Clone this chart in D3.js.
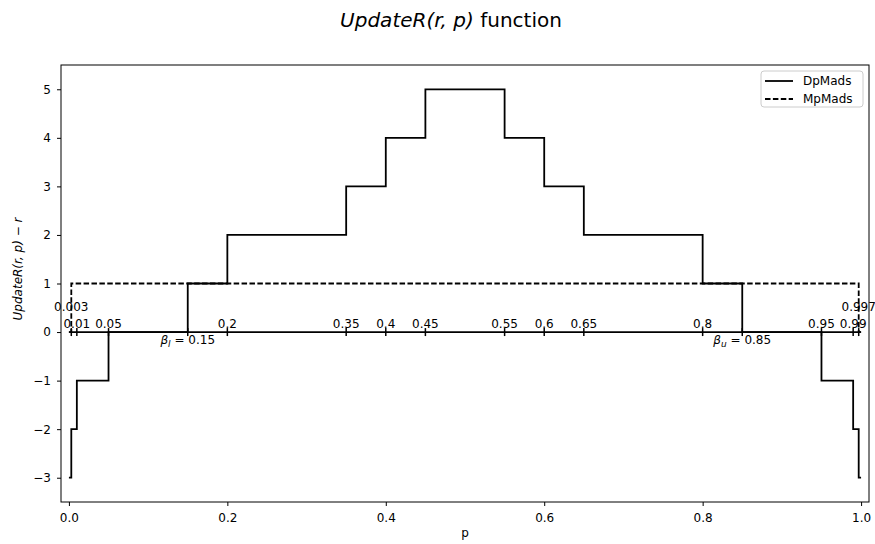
<!DOCTYPE html>
<html>
<head>
<meta charset="utf-8">
<script src="https://cdn.jsdelivr.net/npm/d3@7"></script>
<style>
  body { margin: 0; background: #fff; }
  text { font-family: "DejaVu Sans", sans-serif; }
</style>
</head>
<body>
<svg width="875" height="544"></svg>
<script>
// DpMads step function: value on each interval [dpBreaks[i], dpBreaks[i+1])
var dpBreaks = [0, 0.003, 0.01, 0.05, 0.15, 0.2, 0.35, 0.4, 0.45, 0.55, 0.6, 0.65, 0.8, 0.85, 0.95, 0.99, 0.997, 1];
var dpValues = [-3, -2, -1, 0, 1, 2, 3, 4, 5, 4, 3, 2, 1, 0, -1, -2, -3];

// MpMads step function
var mpBreaks = [0, 0.003, 0.997, 1];
var mpValues = [0, 1, 0];

// thresholds marked on the p number line (at y = 0)
var markP = [0.003, 0.01, 0.05, 0.15, 0.2, 0.35, 0.4, 0.45, 0.55, 0.6, 0.65, 0.8, 0.85, 0.95, 0.99, 0.997];
var markLabels = ['0.003', '0.01', '0.05', 'l', '0.2', '0.35', '0.4', '0.45', '0.55', '0.6', '0.65', '0.8', 'u', '0.95', '0.99', '0.997'];

var xTicks = [0, 0.2, 0.4, 0.6, 0.8, 1.0];
var yTicks = [-3, -2, -1, 0, 1, 2, 3, 4, 5];
var seriesNames = ['DpMads', 'MpMads'];

var margin = {left: 61, right: 6, top: 65, bottom: 42};
var width = 875, height = 544;

var svg = d3.select('svg');

var x = d3.scaleLinear()
    .domain([-0.01, 1.01])
    .range([margin.left, width - margin.right]);

var y = d3.scaleLinear()
    .domain([-3.5, 5.5])
    .range([height - margin.bottom, margin.top]);

function stepPoints(breaks, values) {
  var pts = [];
  for (var i = 0; i < values.length; i++) {
    pts.push([breaks[i], values[i]]);
    pts.push([breaks[i + 1], values[i]]);
  }
  return pts;
}

var line = d3.line()
    .x(function(d) { return x(d[0]); })
    .y(function(d) { return y(d[1]); });

// axes
var xAxis = svg.append('g')
    .attr('transform', 'translate(0,' + (height - margin.bottom) + ')')
    .call(d3.axisBottom(x).tickValues(xTicks).tickFormat(d3.format('.1f')).tickSize(4).tickPadding(7));
var yAxis = svg.append('g')
    .attr('transform', 'translate(' + margin.left + ',0)')
    .call(d3.axisLeft(y).tickValues(yTicks).tickSize(4).tickPadding(6));

[xAxis, yAxis].forEach(function(a) {
  a.select('.domain').remove();
  a.selectAll('text').attr('font-size', 12).attr('fill', '#000')
    .style('font-family', '"DejaVu Sans", sans-serif');
  a.selectAll('line').attr('stroke', '#000').attr('stroke-width', 1);
});

// number line at y = 0
svg.append('path')
    .attr('d', line([[0, 0], [1, 0]]))
    .attr('fill', 'none')
    .attr('stroke', '#000')
    .attr('stroke-width', 1.8);

svg.append('g').selectAll('line')
    .data(markP)
  .enter().append('line')
    .attr('x1', function(d) { return x(d); })
    .attr('x2', function(d) { return x(d); })
    .attr('y1', y(0) - 4)
    .attr('y2', y(0) + 4)
    .attr('stroke', '#000')
    .attr('stroke-width', 1.5);

// series
svg.append('path')
    .attr('d', line(stepPoints(mpBreaks, mpValues)))
    .attr('fill', 'none')
    .attr('stroke', '#000')
    .attr('stroke-width', 1.8)
    .attr('stroke-dasharray', '5.5,2.4');

svg.append('path')
    .attr('d', line(stepPoints(dpBreaks, dpValues)))
    .attr('fill', 'none')
    .attr('stroke', '#000')
    .attr('stroke-width', 1.8);

// labels on the number line
var lab = svg.append('g').attr('font-size', 12).attr('fill', '#000');
markP.forEach(function(p, i) {
  var txt = markLabels[i];
  if (txt === 'l' || txt === 'u') {
    var t = lab.append('text')
        .attr('x', x(p))
        .attr('y', y(0) + 12)
        .attr('text-anchor', 'middle');
    t.append('tspan').attr('font-style', 'italic').text('β');
    t.append('tspan').attr('font-style', 'italic').attr('font-size', 9).attr('dy', 2.5).text(txt);
    t.append('tspan').attr('dy', -2.5).text(' = ' + p);
  } else {
    var high = (p === markP[0] || p === markP[markP.length - 1]);
    lab.append('text')
        .attr('x', x(p))
        .attr('y', high ? y(0) - 21 : y(0) - 4.5)
        .attr('text-anchor', 'middle')
        .text(txt);
  }
});

// frame
svg.append('rect')
    .attr('x', margin.left)
    .attr('y', margin.top)
    .attr('width', width - margin.left - margin.right)
    .attr('height', height - margin.top - margin.bottom)
    .attr('fill', 'none')
    .attr('stroke', '#000')
    .attr('stroke-width', 1);

// legend
var lg = svg.append('g').attr('transform', 'translate(761,71)');
lg.append('rect')
    .attr('width', 102).attr('height', 36).attr('rx', 3)
    .attr('fill', '#fff').attr('fill-opacity', 0.8)
    .attr('stroke', '#ccc').attr('stroke-width', 1);
seriesNames.forEach(function(name, i) {
  var yy = 10 + i * 18;
  lg.append('line')
      .attr('x1', 4).attr('x2', 32).attr('y1', yy).attr('y2', yy)
      .attr('stroke', '#000').attr('stroke-width', 1.8)
      .attr('stroke-dasharray', i === 1 ? '5.5,2.4' : null);
  lg.append('text')
      .attr('x', 42).attr('y', yy + 4.3)
      .attr('font-size', 12)
      .text(name);
});

// title
var title = svg.append('text')
    .attr('x', 451).attr('y', 27)
    .attr('text-anchor', 'middle')
    .attr('font-size', 20);
title.append('tspan').attr('font-style', 'italic').text('UpdateR(r, p)');
title.append('tspan').text(' function');

// axis labels
svg.append('text')
    .attr('x', (margin.left + width - margin.right) / 2)
    .attr('y', 537)
    .attr('text-anchor', 'middle')
    .attr('font-size', 12)
    .text('p');

svg.append('text')
    .attr('transform', 'translate(22,269) rotate(-90)')
    .attr('text-anchor', 'middle')
    .attr('font-size', 12)
    .attr('font-style', 'italic')
    .text('UpdateR(r, p) − r');
</script>
</body>
</html>
